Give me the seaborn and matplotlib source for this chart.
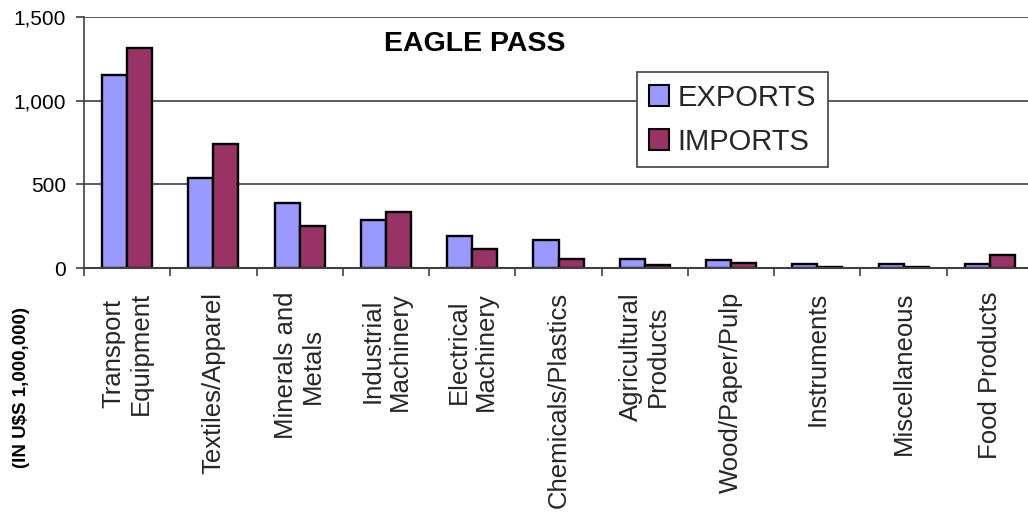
import matplotlib
matplotlib.use("Agg")
import matplotlib.pyplot as plt
import seaborn as sns
import pandas as pd
from matplotlib.ticker import FuncFormatter, FixedLocator
from matplotlib.patches import Patch

categories = ["Transport\nEquipment", "Textiles/Apparel", "Minerals and\nMetals",
              "Industrial\nMachinery", "Electrical\nMachinery", "Chemicals/Plastics",
              "Agricultural\nProducts", "Wood/Paper/Pulp", "Instruments",
              "Miscellaneous", "Food Products"]
exports = [1155, 540, 390, 285, 190, 170, 55, 48, 28, 25, 25]
imports = [1315, 740, 250, 335, 115, 55, 18, 30, 10, 6, 80]
series = ["EXPORTS", "IMPORTS"]
colors = ["#9999FF", "#993366"]
yticks = [0, 500, 1000, 1500]

df = pd.DataFrame({
    "category": categories * 2,
    "value": exports + imports,
    "flow": [series[0]] * len(categories) + [series[1]] * len(categories),
})

sns.set_theme(style="white")
plt.rcParams["font.family"] = ["Liberation Sans", "DejaVu Sans"]

fig = plt.figure(figsize=(10.28, 5.21), dpi=100)
ax = fig.add_axes([84 / 1028, 1 - 268.3 / 521, (1033 - 84) / 1028, (268.3 - 16.7) / 521])

sns.barplot(data=df, x="category", y="value", hue="flow", palette=colors,
            hue_order=series, order=categories, width=0.58, saturation=1,
            edgecolor="black", linewidth=1.7, ax=ax, legend=False)

ax.set_ylim(0, 1500)
ax.set_xlim(-0.5, len(categories) - 0.5)
ax.yaxis.set_major_locator(FixedLocator(yticks))
ax.yaxis.set_major_formatter(FuncFormatter(lambda v, p: f"{int(v):,}"))
ax.grid(axis="y", color="#404040", linewidth=1.2)
ax.set_axisbelow(True)
for s in ["top", "right"]:
    ax.spines[s].set_visible(False)
ax.spines["left"].set_color("#404040")
ax.spines["left"].set_linewidth(1.2)
ax.spines["bottom"].set_color("#404040")
ax.spines["bottom"].set_linewidth(1.5)

ax.set_xlabel("")
ax.set_ylabel("")
ax.tick_params(axis="y", which="major", left=True, length=6, width=1.2, color="#404040",
               pad=7, labelsize=15, labelcolor="black")
ax.set_xticks(range(len(categories)))
ax.set_xticklabels(categories, rotation=90, fontsize=18.5, ha="center", va="top",
                   multialignment="center", linespacing=1.15)
ax.set_xticks([i - 0.5 for i in range(len(categories) + 1)], minor=True)
ax.tick_params(axis="x", which="major", bottom=False, length=0, pad=17)
ax.tick_params(axis="x", which="minor", bottom=True, length=6, width=1.2, color="#404040")

ax.text(475 / 1028, 1 - 44 / 521, "EAGLE PASS", transform=fig.transFigure,
        ha="center", va="center", fontsize=20.5, fontweight="bold", color="black")

fig.text(22 / 1028, 1 - 388 / 521, "(IN U$S 1,000,000)", rotation=90,
         ha="center", va="center", fontsize=13.5, fontweight="bold", color="black")

handles = [Patch(facecolor=c, edgecolor="black", linewidth=1.5) for c in colors]
leg = ax.legend(handles, series, loc="upper left",
                bbox_to_anchor=(637 / 1028, 1 - 72 / 521), bbox_transform=fig.transFigure,
                fontsize=21, frameon=True, fancybox=False, handlelength=0.7,
                handleheight=0.7, handletextpad=0.3, borderpad=0.4, labelspacing=0.55,
                borderaxespad=0)
leg.get_frame().set_edgecolor("#404040")
leg.get_frame().set_linewidth(1.2)
leg.get_frame().set_facecolor("white")
leg.get_frame().set_alpha(1)

fig.savefig("out.png", dpi=100, facecolor="white")
